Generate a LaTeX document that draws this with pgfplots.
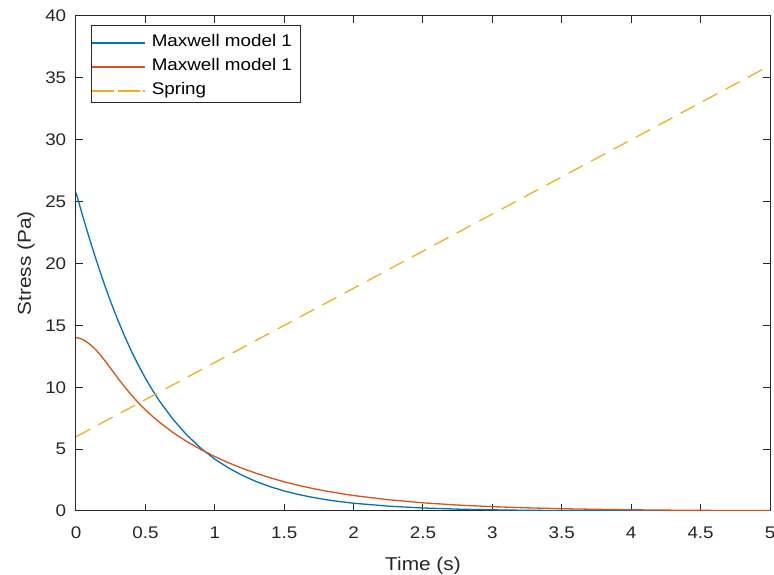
\documentclass[border=0pt]{standalone}
\usepackage{fontspec}
\setmainfont[FakeStretch=1.12]{Liberation Sans}
\usepackage{pgfplots}
\usepackage{pgfplotstable}
\pgfplotsset{compat=1.18}
\definecolor{mblue}{rgb}{0,0.447,0.741}
\definecolor{morange}{rgb}{0.85,0.325,0.098}
\definecolor{myellow}{rgb}{0.929,0.694,0.125}
\definecolor{mgray}{rgb}{0.15,0.15,0.15}

\pgfplotstableread{
t y
0 25.73
0.05 23.77
0.1 21.90
0.15 20.13
0.2 18.46
0.25 16.91
0.3 15.47
0.35 14.13
0.4 12.90
0.45 11.77
0.5 10.73
0.55 9.78
0.6 8.91
0.7 7.39
0.8 6.12
0.9 5.07
1.0 4.19
1.1 3.47
1.2 2.87
1.3 2.37
1.4 1.96
1.5 1.62
1.6 1.34
1.7 1.11
1.8 0.919
1.9 0.760
2.0 0.628
2.25 0.391
2.5 0.243
2.75 0.151
3.0 0.094
3.25 0.058
3.5 0.036
3.75 0.023
4.0 0.014
4.25 0.0087
4.5 0.0053
4.75 0.0034
5.0 0.0021
}\blue

\pgfplotstableread{
t y
0 14.00
0.025 13.96
0.05 13.85
0.075 13.68
0.1 13.47
0.125 13.22
0.15 12.94
0.2 12.27
0.25 11.52
0.3 10.76
0.35 10.03
0.4 9.36
0.45 8.74
0.5 8.17
0.55 7.66
0.6 7.18
0.7 6.33
0.8 5.60
0.9 4.97
1.0 4.40
1.1 3.89
1.2 3.44
1.3 3.04
1.4 2.68
1.5 2.36
1.6 2.08
1.7 1.83
1.8 1.61
1.9 1.42
2.0 1.25
2.25 0.91
2.5 0.66
2.75 0.48
3.0 0.35
3.25 0.255
3.5 0.185
3.75 0.135
4.0 0.098
4.25 0.071
4.5 0.052
4.75 0.038
5.0 0.028
}\orange

\pgfplotstableread{
t y
0 6
5 36
}\spring

\begin{document}
\begin{tikzpicture}
\begin{axis}[
  name=ax,
  scale only axis,
  width=347pt, height=247.5pt,
  xmin=0, xmax=5, ymin=0, ymax=40,
  xtick={0,0.5,1,1.5,2,2.5,3,3.5,4,4.5,5},
  ytick={0,5,10,15,20,25,30,35,40},
  xticklabels={0,0.5,1,1.5,2,2.5,3,3.5,4,4.5,5},
  tick align=inside,
  major tick length=3.5pt,
  axis line style={mgray, line width=0.5pt},
  tick style={mgray, line width=0.5pt},
  /pgf/number format/assume math mode=true,
  ticklabel style={font=\fontsize{8.4}{10}\selectfont, text=mgray, inner sep=0pt},
  xticklabel style={anchor=base, yshift=-14pt},
  yticklabel style={anchor=east, xshift=-4.7pt},
  xlabel={Time (s)},
  ylabel={Stress (Pa)},
  label style={font=\fontsize{9.3}{11}\selectfont, text=mgray, inner sep=0pt},
  xlabel style={at={(axis description cs:0.5,-0.1212)}, anchor=base},
  ylabel style={at={(axis description cs:-0.0720,0.5)}, anchor=center},
  legend style={at={(axis description cs:0.0216,0.9818)}, anchor=north west,
    draw=mgray, line width=0.5pt, font=\fontsize{8.4}{10}\selectfont,
    inner xsep=0pt, inner ysep=1.3pt, row sep=0pt,
    nodes={inner sep=0pt, text height=9pt, text depth=3pt},
    /tikz/every odd column/.append style={column sep=3pt},
    cells={anchor=west}},
  legend image code/.code={\path (0pt,-1.5pt) -- (26.5pt,-1.5pt);\draw[#1, line width=0.65pt] (3pt,-1.5pt) -- (26.5pt,-1.5pt);},
]
\addplot[mblue, line width=0.65pt] table[x=t,y=y] {\blue};
\addlegendentry{Maxwell model 1\hspace*{4.5pt}}
\addplot[morange, line width=0.65pt] table[x=t,y=y] {\orange};
\addlegendentry{Maxwell model 1\hspace*{4.5pt}}
\addplot[myellow, line width=0.65pt, dash pattern=on 8pt off 4.7pt] table[x=t,y=y] {\spring};
\addlegendentry{Spring}
\end{axis}
\pgfresetboundingbox
\path[use as bounding box] ([xshift=-38pt,yshift=-32pt]ax.south west) rectangle ([xshift=2pt,yshift=8pt]ax.north east);
\end{tikzpicture}
\end{document}
